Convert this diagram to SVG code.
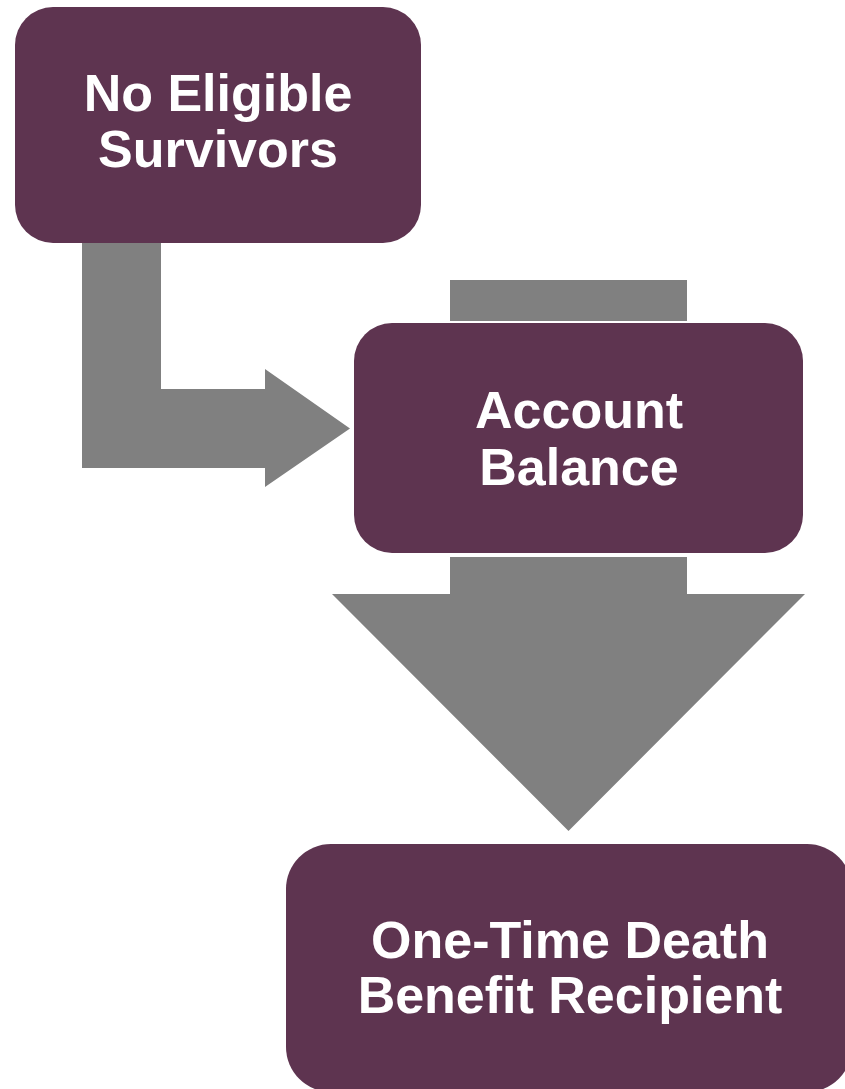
<svg xmlns="http://www.w3.org/2000/svg" width="845" height="1089" viewBox="0 0 845 1089">
<style>
.node{fill:#5E3450;}
.conn{fill:#808080;}
.lbl{fill:#FFFFFF;font-family:"Liberation Sans",Arial,sans-serif;font-weight:bold;font-size:52px;text-anchor:middle;}
</style>
<rect width="845" height="1089" fill="#FFFFFF"/>
<g id="connectors">
<path class="conn" d="M82,243 L161,243 L161,389 L265,389 L265,369 L350,428.5 L265,487 L265,468 L82,468 Z"/>
<rect class="conn" x="450" y="280" width="237" height="41"/>
<path class="conn" d="M450,557 L687,557 L687,594 L805,594 L568.5,831 L332,594 L450,594 Z"/>
</g>
<g id="node-no-eligible-survivors">
<rect class="node" x="15" y="7" width="406" height="236" rx="38" ry="38"/>
<text class="lbl" x="218" y="111">No Eligible</text>
<text class="lbl" x="218" y="167">Survivors</text>
</g>
<g id="node-account-balance">
<rect class="node" x="354" y="323" width="449" height="230" rx="38" ry="38"/>
<text class="lbl" x="579" y="428">Account</text>
<text class="lbl" x="579" y="485">Balance</text>
</g>
<g id="node-one-time-death-benefit-recipient">
<rect class="node" x="286" y="844" width="566" height="248" rx="45" ry="45"/>
<text class="lbl" x="570" y="958">One-Time Death</text>
<text class="lbl" x="570" y="1013">Benefit Recipient</text>
</g>
</svg>
